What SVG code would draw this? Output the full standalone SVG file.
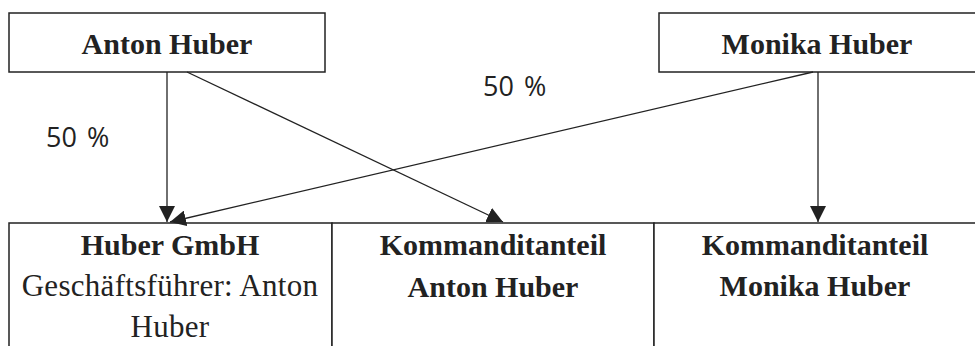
<svg xmlns="http://www.w3.org/2000/svg" width="975" height="346" viewBox="0 0 975 346">
<defs>
<style>
.box{fill:#fff;stroke:#222;stroke-width:1.5}
.b{font-family:"Liberation Serif",serif;font-weight:bold;font-size:30px;fill:#222;text-anchor:middle}
.r{font-family:"Liberation Serif",serif;font-size:31px;letter-spacing:0.3px;fill:#222;text-anchor:middle}
.p{font-family:"Open Sans",sans-serif;font-size:27px;fill:#222}
.c{stroke:#222;stroke-width:1.3;fill:none;marker-end:url(#ah)}
</style>
<marker id="ah" viewBox="0 0 10 10" refX="10" refY="5" markerWidth="16" markerHeight="16" markerUnits="userSpaceOnUse" orient="auto">
<path d="M0,0 L10,5 L0,10 Z" fill="#222"/>
</marker>
</defs>
<rect width="975" height="346" fill="#fff"/>
<g id="anton">
<rect class="box" x="9" y="13" width="316" height="59"/>
<text class="b" x="167" y="54">Anton Huber</text>
</g>
<g id="monika">
<rect class="box" x="659" y="13" width="330" height="59"/>
<text class="b" x="817" y="54">Monika Huber</text>
</g>
<g id="gmbh">
<rect class="box" x="9" y="223" width="323" height="140"/>
<text class="b" x="170" y="255">Huber GmbH</text>
<text class="r" x="170" y="296">Geschäftsführer: Anton</text>
<text class="r" x="170" y="337">Huber</text>
</g>
<g id="kanton">
<rect class="box" x="332" y="223" width="322" height="140"/>
<text class="b" x="493" y="255">Kommanditanteil</text>
<text class="b" x="493" y="297">Anton Huber</text>
</g>
<g id="kmonika">
<rect class="box" x="654" y="223" width="335" height="140"/>
<text class="b" x="815" y="255">Kommanditanteil</text>
<text class="b" x="815" y="296">Monika Huber</text>
</g>
<g id="connectors">
<line class="c" x1="167" y1="72" x2="167" y2="222"/>
<line class="c" x1="187" y1="72" x2="503" y2="222"/>
<line class="c" x1="818" y1="72" x2="818" y2="222"/>
<line class="c" x1="813" y1="72" x2="170" y2="222"/>
<text class="p" y="147"><tspan x="46">50</tspan> <tspan x="87">%</tspan></text>
<text class="p" y="96"><tspan x="483">50</tspan> <tspan x="524">%</tspan></text>
</g>
</svg>
